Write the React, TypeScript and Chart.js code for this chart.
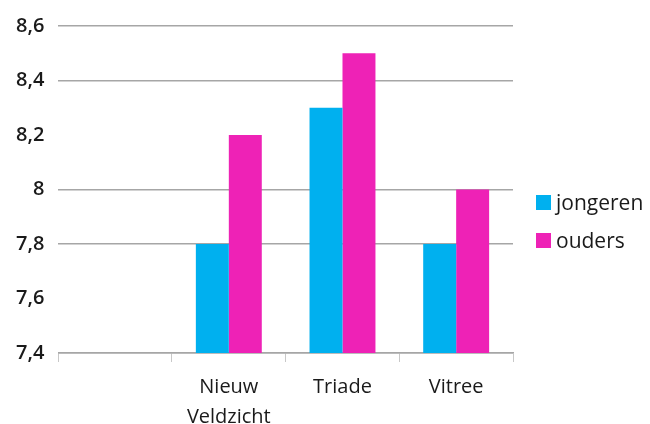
import React, { useEffect, useRef } from "react";
import { Chart, registerables } from "chart.js";

Chart.register(...registerables);

const categories: (string | string[])[] = ["", ["Nieuw", "Veldzicht"], "Triade", "Vitree"];
const jongeren: (number | null)[] = [null, 7.8, 8.3, 7.8];
const ouders: (number | null)[] = [null, 8.2, 8.5, 8.0];
const seriesNames = ["jongeren", "ouders"];
const seriesColors = ["#00b0ef", "#ee22b6"];
const yTicks = [7.4, 7.6, 7.8, 8.0, 8.2, 8.4, 8.6];
const faintTicks = [7.6, 8.2];

export default function App() {
  const ref = useRef<HTMLCanvasElement | null>(null);
  useEffect(() => {
    if (!ref.current) return;
    const chart = new Chart(ref.current, {
      type: "bar",
      data: {
        labels: categories,
        datasets: [
          { label: seriesNames[0], data: jongeren, backgroundColor: seriesColors[0], borderWidth: 0 },
          { label: seriesNames[1], data: ouders, backgroundColor: seriesColors[1], borderWidth: 0 },
        ],
      },
      options: {
        animation: false,
        responsive: false,
        maintainAspectRatio: false,
        layout: { padding: { top: 12, right: 137, left: 2, bottom: -18 } },
        plugins: {
          legend: { display: false },
          tooltip: { enabled: false },
        },
        datasets: { bar: { categoryPercentage: 0.58, barPercentage: 1 } },
        scales: {
          x: {
            offset: true,
            border: { display: true, color: "#a6a6a6", width: 1.5 },
            grid: {
              display: true,
              offset: true,
              drawOnChartArea: false,
              drawTicks: true,
              tickLength: 9,
              color: "#c8c8c8",
            },
            ticks: {
              color: "#1a1a1a",
              font: { family: "'Open Sans', sans-serif", size: 20, lineHeight: 1.5 },
              padding: 10,
              maxRotation: 0,
              autoSkip: false,
            },
          },
          y: {
            min: 7.4,
            max: 8.6,
            afterBuildTicks: (axis: any) => {
              axis.ticks = yTicks.map((v) => ({ value: v }));
            },
            border: { display: false },
            grid: {
              drawTicks: false,
              lineWidth: 1.5,
              color: (ctx: any) => {
                const v = ctx.tick ? ctx.tick.value : null;
                if (v !== null && faintTicks.some((f) => Math.abs(f - v) < 1e-6)) return "rgba(0,0,0,0)";
                return "#a6a6a6";
              },
            },
            ticks: {
              color: "#1a1a1a",
              padding: 14,
              font: { family: "'Open Sans', sans-serif", size: 20, weight: "600" },
              callback: (v: any) => {
                const n = Math.round(Number(v) * 10) / 10;
                return String(n).replace(".", ",");
              },
            },
          },
        },
      },
    });
    return () => chart.destroy();
  }, []);

  return (
    <div style={{ position: "fixed", left: 0, top: 0, width: 650, height: 424, background: "#fff", overflow: "hidden" }}>
      <canvas ref={ref} width={650} height={424} style={{ display: "block" }} />
      {seriesNames.map((name, i) => (
        <div
          key={name}
          style={{
            position: "absolute",
            left: 536,
            top: 187 + i * 38,
            height: 30,
            display: "flex",
            alignItems: "center",
            fontFamily: "'Open Sans', sans-serif",
            fontSize: 21,
            color: "#1a1a1a",
            whiteSpace: "nowrap",
          }}
        >
          <span style={{ display: "inline-block", width: 15, height: 15, background: seriesColors[i], marginRight: 5 }} />
          <span style={{ lineHeight: "30px" }}>{name}</span>
        </div>
      ))}
    </div>
  );
}
